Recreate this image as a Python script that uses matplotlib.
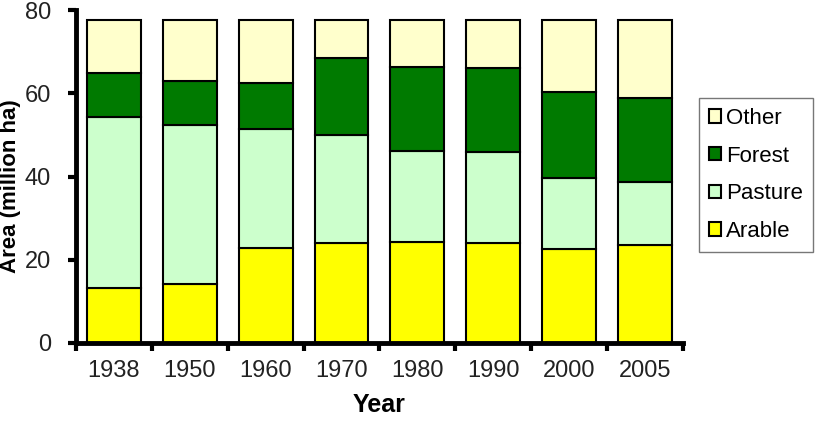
import numpy as np
import matplotlib.pyplot as plt

plt.rcParams['font.family'] = ['Liberation Sans', 'DejaVu Sans']

years = ['1938', '1950', '1960', '1970', '1980', '1990', '2000', '2005']
arable = [13.2, 14.1, 22.9, 24.0, 24.2, 24.0, 22.5, 23.5]
pasture = [41.0, 38.2, 28.6, 26.1, 21.9, 21.8, 17.1, 15.1]
forest = [10.6, 10.6, 11.0, 18.5, 20.3, 20.3, 20.8, 20.4]
other = [12.8, 14.7, 15.1, 9.0, 11.2, 11.5, 17.2, 18.6]

series = [('Arable', arable, '#FFFF00'),
          ('Pasture', pasture, '#CCFFCC'),
          ('Forest', forest, '#007A00'),
          ('Other', other, '#FFFFCC')]

fig = plt.figure(figsize=(8.17, 4.43), dpi=100)
ax = fig.add_axes([0.093, 0.226, 0.743, 0.751])

x = np.arange(len(years))
bottom = np.zeros(len(years))
handles = []
for name, vals, col in series:
    b = ax.bar(x, vals, 0.71, bottom=bottom, color=col, edgecolor='black',
               linewidth=1.5, label=name)
    handles.append(b)
    bottom += np.array(vals)

ax.set_xlim(-0.5, len(years) - 0.5)
ax.set_ylim(0, 80)
ax.set_yticks([0, 20, 40, 60, 80])
ax.set_xticks(x)
ax.set_xticklabels(years)
ax.set_xticks(np.arange(-0.5, len(years)), minor=True)
ax.tick_params(axis='x', which='major', length=0, labelsize=17, pad=12)
ax.tick_params(axis='x', which='minor', length=6, width=3, direction='out')
ax.tick_params(axis='y', length=6, width=3, direction='out', labelsize=17, pad=12)
for lab in ax.get_xticklabels() + ax.get_yticklabels():
    lab.set_color('#222222')
ax.spines['top'].set_visible(False)
ax.spines['right'].set_visible(False)
ax.spines['left'].set_linewidth(3.5)
ax.spines['bottom'].set_linewidth(3.5)

ax.set_xlabel('Year', fontsize=18, fontweight='bold', labelpad=8)
ax.set_ylabel('Area (million ha)', fontsize=16, fontweight='bold')
ax.yaxis.set_label_coords(-0.09, 0.47)

leg = fig.legend(handles[::-1], [s[0] for s in series][::-1],
                 loc='upper left', bbox_to_anchor=(0.8556, 0.779),
                 fontsize=16, frameon=True, fancybox=False,
                 handlelength=0.55, handleheight=0.55, handletextpad=0.2,
                 labelspacing=0.75, borderpad=0.45, borderaxespad=0)
leg.get_frame().set_edgecolor('#555555')
leg.get_frame().set_linewidth(1.0)

fig.savefig('out.png', dpi=100)
